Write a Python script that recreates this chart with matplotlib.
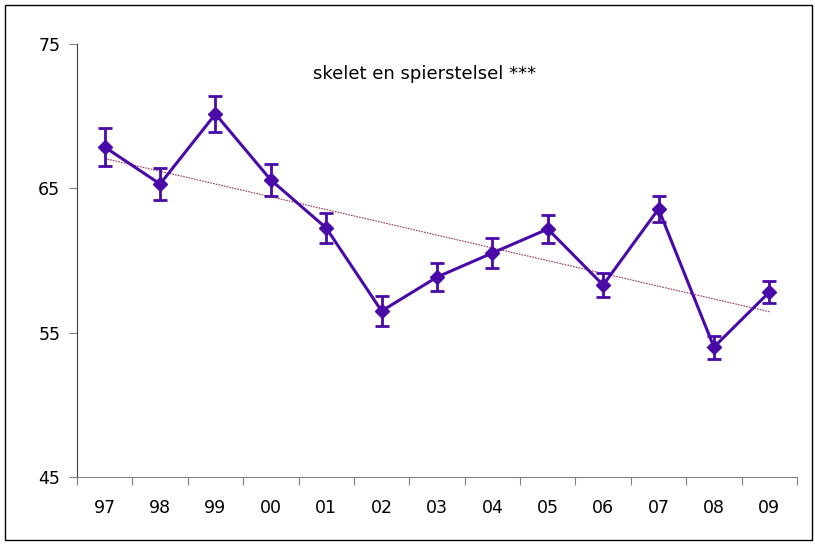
import numpy as np
import matplotlib
matplotlib.use("Agg")
import matplotlib.pyplot as plt
from matplotlib.patches import Rectangle

years = ["97", "98", "99", "00", "01", "02", "03", "04", "05", "06", "07", "08", "09"]
values = [67.86, 65.3, 70.15, 65.58, 62.25, 56.5, 58.85, 60.52, 62.18, 58.3, 63.57, 54.0, 57.81]
errors = [1.3, 1.1, 1.28, 1.14, 1.04, 1.04, 0.97, 1.07, 1.0, 0.83, 0.9, 0.8, 0.76]
title = "skelet en spierstelsel ***"

color = "#4A0AA8"
fig = plt.figure(figsize=(8.15, 5.45), dpi=100)
ax = fig.add_axes([77/815, 1-477/545, 720/815, 433/545])

x = np.arange(len(years))
# trend line (linear fit)
coef = np.polyfit(x, values, 1)
ax.plot(x, np.polyval(coef, x), color="#993366", lw=0.8, ls=(0, (1.5, 1)), zorder=2)

ax.errorbar(x, values, yerr=errors, color=color, lw=2.2, marker="D", ms=7,
            elinewidth=2, capsize=5, capthick=2, zorder=3)

ax.set_xlim(-0.5, len(years) - 0.5)
ax.set_ylim(45, 75)
ax.set_yticks([45, 55, 65, 75])
ax.set_yticklabels(["45", "55", "65", "75"], fontsize=12.5)
ax.set_xticks(np.arange(-0.5, len(years)), labels=[""] * (len(years) + 1))
ax.set_xticks(x, labels=years, minor=True)
ax.tick_params(axis="x", which="major", length=6, color="#808080", direction="out")
ax.tick_params(axis="x", which="minor", length=0, pad=16, labelsize=12.5)
ax.tick_params(axis="y", length=6, color="#808080", pad=6)
for s in ["top", "right"]:
    ax.spines[s].set_visible(False)
ax.spines["left"].set_color("#404040")
ax.spines["bottom"].set_color("#808080")

ax.text(0.483, 0.93, title, transform=ax.transAxes, ha="center", va="center", fontsize=13)

fig.patches.append(Rectangle((5/815, 5/545), 807/815, 535/545, transform=fig.transFigure,
                             fill=False, edgecolor="black", lw=1))
fig.savefig("out.png", dpi=100)
